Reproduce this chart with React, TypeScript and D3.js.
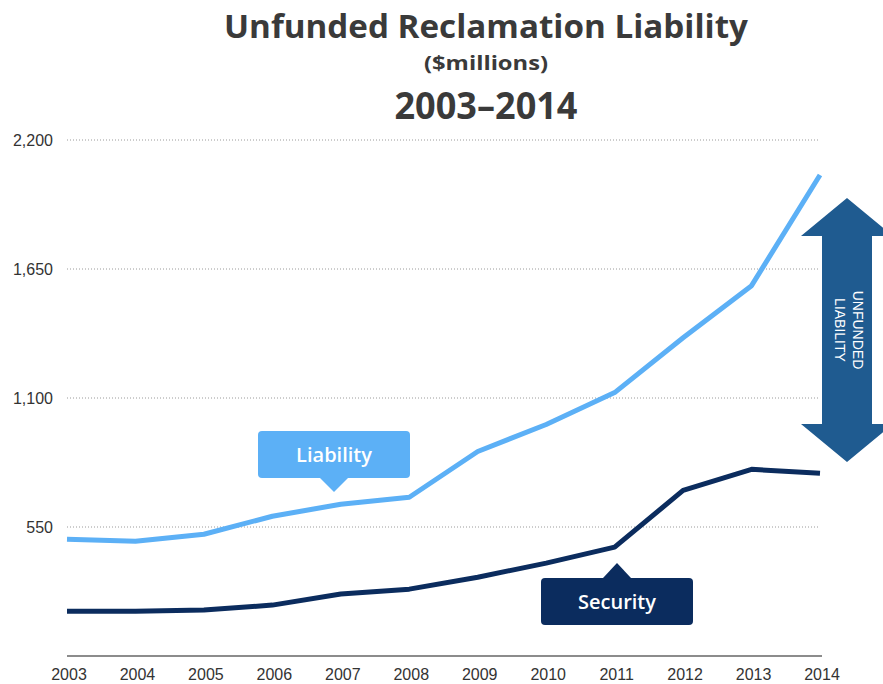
import React, { useRef, useEffect } from "react";
import * as d3 from "d3";

const years = [2003, 2004, 2005, 2006, 2007, 2008, 2009, 2010, 2011, 2012, 2013, 2014];
const liability = [498, 489, 519, 596, 647, 677, 872, 987, 1123, 1357, 1579, 2051];
const security = [191, 191, 196, 217, 264, 285, 336, 396, 464, 706, 796, 779];
const yTicks = [550, 1100, 1650, 2200];

const W = 883;
const H = 684;

const App = () => {
  const svgRef = useRef<SVGSVGElement | null>(null);

  useEffect(() => {
    document.body.style.margin = "0";
    const svg = d3.select(svgRef.current);
    svg.selectAll("*").remove();

    const margin = { top: 140, right: 63, bottom: 28, left: 67 };

    const x = d3
      .scaleLinear()
      .domain([2003, 2014])
      .range([margin.left, W - margin.right]);

    const y = d3
      .scaleLinear()
      .domain([0, 2200])
      .range([H - margin.bottom, margin.top]);

    // titles
    const titleFont = "'Open Sans', sans-serif";
    svg
      .append("text")
      .attr("x", 486)
      .attr("y", 38)
      .attr("text-anchor", "middle")
      .attr("font-family", titleFont)
      .attr("font-weight", 700)
      .attr("font-size", 33)
      .attr("fill", "#3a3a3a")
      .attr("textLength", 524)
      .attr("lengthAdjust", "spacingAndGlyphs")
      .text("Unfunded Reclamation Liability");
    svg
      .append("text")
      .attr("x", 486)
      .attr("y", 70)
      .attr("text-anchor", "middle")
      .attr("font-family", titleFont)
      .attr("font-weight", 700)
      .attr("font-size", 20)
      .attr("fill", "#3a3a3a")
      .attr("textLength", 124)
      .attr("lengthAdjust", "spacingAndGlyphs")
      .text("($millions)");
    svg
      .append("text")
      .attr("x", 486)
      .attr("y", 119)
      .attr("text-anchor", "middle")
      .attr("font-family", titleFont)
      .attr("font-weight", 700)
      .attr("font-size", 38)
      .attr("fill", "#3a3a3a")
      .attr("textLength", 183)
      .attr("lengthAdjust", "spacingAndGlyphs")
      .text("2003–2014");

    // dotted grid lines + y labels
    const grid = svg.append("g");
    yTicks.forEach((t) => {
      grid
        .append("line")
        .attr("x1", margin.left)
        .attr("x2", x(2014))
        .attr("y1", y(t))
        .attr("y2", y(t))
        .attr("stroke", "#9a9a9a")
        .attr("stroke-width", 1)
        .attr("stroke-dasharray", "1,2");
      grid
        .append("text")
        .attr("x", 53)
        .attr("y", y(t))
        .attr("dy", "0.35em")
        .attr("text-anchor", "end")
        .attr("font-family", "'Liberation Sans', Arial, sans-serif")
        .attr("font-size", 16)
        .attr("fill", "#333")
        .text(d3.format(",")(t));
    });

    // baseline
    svg
      .append("line")
      .attr("x1", x(2003))
      .attr("x2", x(2014) + 2)
      .attr("y1", y(0))
      .attr("y2", y(0))
      .attr("stroke", "#666")
      .attr("stroke-width", 1.5);

    // x labels
    svg
      .append("g")
      .selectAll("text")
      .data(years)
      .enter()
      .append("text")
      .attr("x", (d) => x(d) + 2)
      .attr("y", 680)
      .attr("text-anchor", "middle")
      .attr("font-family", "'Liberation Sans Narrow', 'Liberation Sans', Arial, sans-serif")
      .attr("font-size", 16)
      .attr("fill", "#333")
      .text((d) => d);

    const line = d3
      .line<number>()
      .x((d, i) => x(years[i]))
      .y((d) => y(d));

    svg
      .append("path")
      .datum(security)
      .attr("d", line)
      .attr("fill", "none")
      .attr("stroke", "#0b2c5e")
      .attr("stroke-width", 5)
      .attr("stroke-linejoin", "round");

    svg
      .append("path")
      .datum(liability)
      .attr("d", line)
      .attr("fill", "none")
      .attr("stroke", "#5cb0f6")
      .attr("stroke-width", 5)
      .attr("stroke-linejoin", "round");

    // callouts
    const callout = (cx: number, top: number, color: string, label: string, pointerDown: boolean) => {
      const w = 152;
      const h = 47;
      const g = svg.append("g");
      g.append("rect")
        .attr("x", cx - w / 2)
        .attr("y", top)
        .attr("width", w)
        .attr("height", h)
        .attr("rx", 4)
        .attr("fill", color);
      const p = pointerDown
        ? [[cx - 14, top + h], [cx + 14, top + h], [cx, top + h + 14]]
        : [[cx - 14, top], [cx + 14, top], [cx, top - 15]];
      g.append("path")
        .attr("d", "M" + p.map((q) => q.join(",")).join("L") + "Z")
        .attr("fill", color);
      g.append("text")
        .attr("x", cx)
        .attr("y", top + h / 2)
        .attr("dy", "0.36em")
        .attr("text-anchor", "middle")
        .attr("font-family", "'Open Sans', sans-serif")
        .attr("font-weight", 600)
        .attr("font-size", 20)
        .attr("fill", "#fff")
        .text(label);
    };
    callout(334, 431, "#5cb0f6", "Liability", true);
    callout(617, 578, "#0b2c5e", "Security", false);

    // unfunded liability arrow
    const cx = 847;
    const top = 198;
    const bot = 462;
    const head = 38;
    const hw = 46;
    const sw = 25;
    const pts = [
      [cx, top],
      [cx + hw, top + head],
      [cx + sw, top + head],
      [cx + sw, bot - head],
      [cx + hw, bot - head],
      [cx, bot],
      [cx - hw, bot - head],
      [cx - sw, bot - head],
      [cx - sw, top + head],
      [cx - hw, top + head],
    ];
    svg
      .append("path")
      .attr("d", "M" + pts.map((q) => q.join(",")).join("L") + "Z")
      .attr("fill", "#1f5b90");

    const lab = svg
      .append("text")
      .attr("transform", `translate(${cx},${(top + bot) / 2}) rotate(90)`)
      .attr("text-anchor", "middle")
      .attr("font-family", "'Liberation Sans', Arial, sans-serif")
      .attr("font-size", 14)
      .attr("fill", "#fff");
    lab.append("tspan").attr("x", 0).attr("y", -6).text("UNFUNDED");
    lab.append("tspan").attr("x", 0).attr("y", 12).text("LIABILITY");
  }, []);

  return <svg ref={svgRef} width={W} height={H} style={{ display: "block" }}></svg>;
};

export default App;
